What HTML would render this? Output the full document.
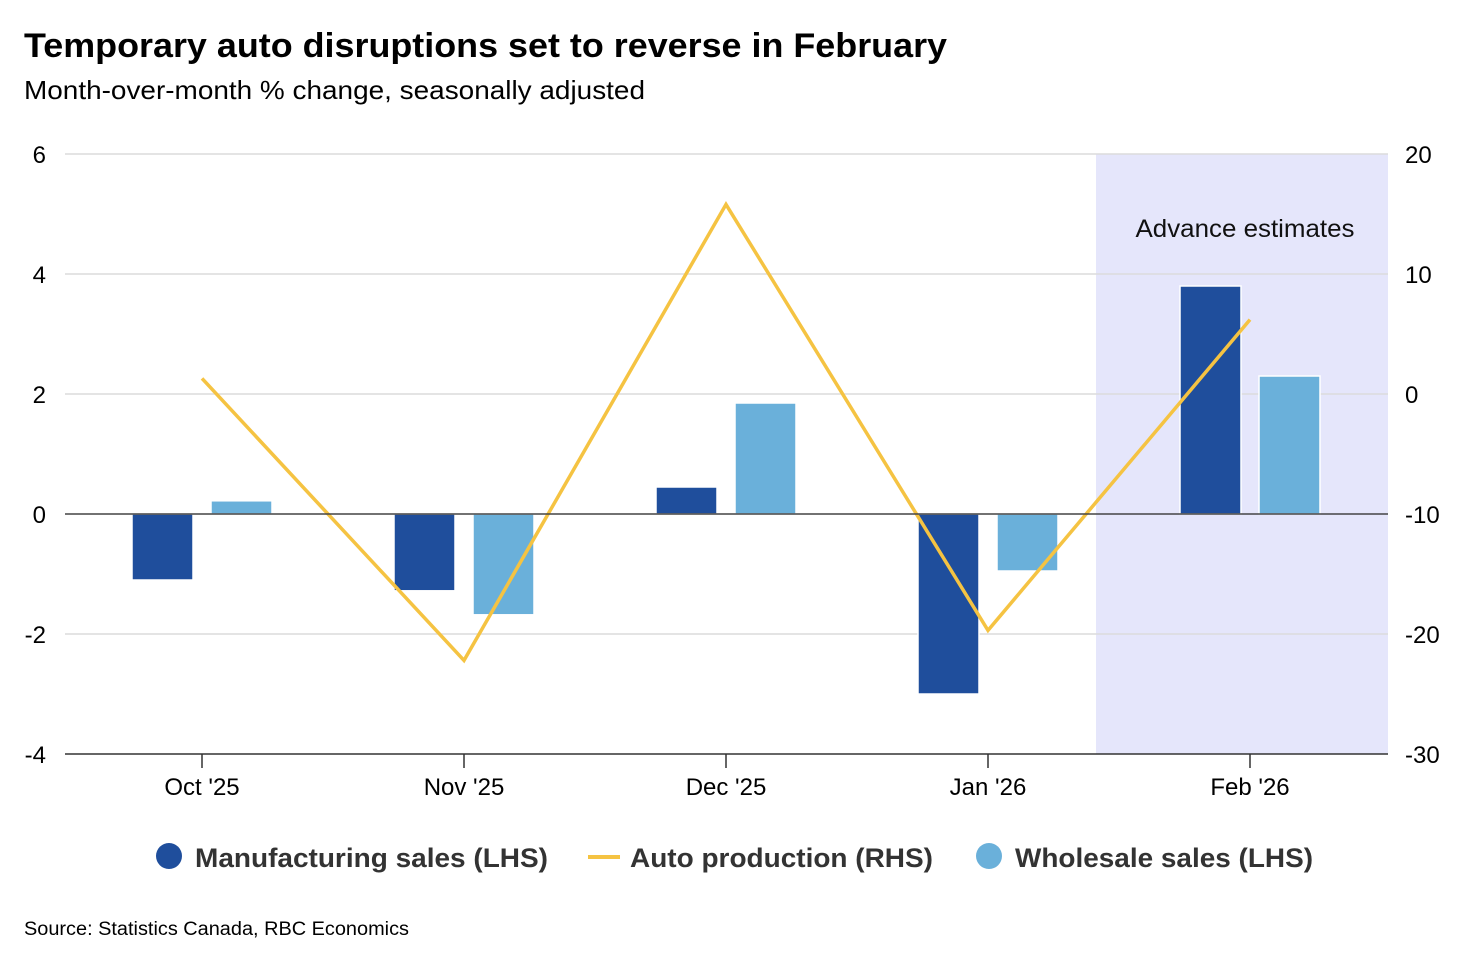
<!DOCTYPE html>
<html><head><meta charset="utf-8"><style>
body{margin:0;background:#fff;font-family:"Liberation Sans",Arial,sans-serif;}
svg text{font-family:"Liberation Sans",Arial,sans-serif;}
</style></head><body>
<svg id="chart" width="1462" height="964" xmlns="http://www.w3.org/2000/svg">
<rect width="1462" height="964" fill="#fff"/>
<text x="24" y="57" font-size="34" font-weight="bold" fill="#000" textLength="923" lengthAdjust="spacingAndGlyphs">Temporary auto disruptions set to reverse in February</text>
<text x="24" y="99" font-size="26" fill="#000" textLength="621" lengthAdjust="spacingAndGlyphs">Month-over-month % change, seasonally adjusted</text>
<rect x="1096" y="154" width="292" height="600" fill="#e5e6fb"/>
<text x="1245" y="237" font-size="25" text-anchor="middle" fill="#111" textLength="219" lengthAdjust="spacingAndGlyphs">Advance estimates</text>
<g id="grid"></g><g id="bars"></g><g id="line"></g><g id="axes"></g>
<g>
<circle cx="169" cy="856" r="13" fill="#1f4e9c"/>
<text x="195" y="867" font-size="27" font-weight="bold" fill="#333" textLength="353" lengthAdjust="spacingAndGlyphs">Manufacturing sales (LHS)</text>
<line x1="588" y1="857" x2="620" y2="857" stroke="#f5c342" stroke-width="4"/>
<text x="630" y="867" font-size="27" font-weight="bold" fill="#333" textLength="303" lengthAdjust="spacingAndGlyphs">Auto production (RHS)</text>
<circle cx="989" cy="856" r="13" fill="#6ab0da"/>
<text x="1015" y="867" font-size="27" font-weight="bold" fill="#333" textLength="298" lengthAdjust="spacingAndGlyphs">Wholesale sales (LHS)</text>
</g>
<text x="24" y="935" font-size="19" fill="#000" textLength="385" lengthAdjust="spacingAndGlyphs">Source: Statistics Canada, RBC Economics</text>
</svg>
<script>
const categories=["Oct '25","Nov '25","Dec '25","Jan '26","Feb '26"];
const manufacturing=[-1.1,-1.28,0.45,-3.0,3.8];
const wholesale=[0.22,-1.68,1.85,-0.95,2.3];
const autoProduction=[1.3,-22.2,15.8,-19.7,6.2];
const leftTicks=[6,4,2,0,-2,-4];
const rightTicks=[20,10,0,-10,-20,-30];
const NS="http://www.w3.org/2000/svg";
const yL=v=>514-v*60;
const yR=v=>154+(20-v)*12;
const xC=i=>202+i*262;
function mk(parent,tag,attrs){const e=document.createElementNS(NS,tag);for(const k in attrs)e.setAttribute(k,attrs[k]);document.getElementById(parent).appendChild(e);return e;}
leftTicks.forEach(t=>{
 if(t!==0&&t!==-4){const g=mk('grid','line',{x1:65,x2:1388,y1:yL(t),y2:yL(t),stroke:'#dcdcdc','stroke-width':1.5});
 
 }
 const tx=mk('axes','text',{x:46,y:yL(t)+9,'font-size':24,'text-anchor':'end',fill:'#000'});tx.textContent=t;
 
 
});
rightTicks.forEach(t=>{
 const tx=mk('axes','text',{x:1405,y:yR(t)+9,'font-size':24,fill:'#000'});tx.textContent=t;
 
 
});
categories.forEach((c,i)=>{
 const b1=mk('bars','rect',{x:xC(i)-70,width:61,y:Math.min(yL(0),yL(manufacturing[i])),height:Math.abs(yL(manufacturing[i])-yL(0)),fill:'#1f4e9c',stroke:'#fff','stroke-width':1.5});
 
 
 const b2=mk('bars','rect',{x:xC(i)+9,width:61,y:Math.min(yL(0),yL(wholesale[i])),height:Math.abs(yL(wholesale[i])-yL(0)),fill:'#6ab0da',stroke:'#fff','stroke-width':1.5});
 
 
 const tk=mk('axes','line',{x1:xC(i),x2:xC(i),y1:754,y2:768,stroke:'#333','stroke-width':1.5});
 
 
 const tx=mk('axes','text',{x:xC(i),y:795,'font-size':24,'text-anchor':'middle',fill:'#000'});tx.textContent=c;
 
 
});
const z=mk('axes','line',{x1:65,x2:1388,y1:yL(0),y2:yL(0),stroke:'#444','stroke-width':1.5});


const ax=mk('axes','line',{x1:65,x2:1388,y1:754,y2:754,stroke:'#333','stroke-width':1.5});


const pl=mk('line','polyline',{points:autoProduction.map((v,i)=>xC(i)+','+yR(v)).join(' '),fill:'none',stroke:'#f5c342','stroke-width':3.5});


</script>
</body></html>
